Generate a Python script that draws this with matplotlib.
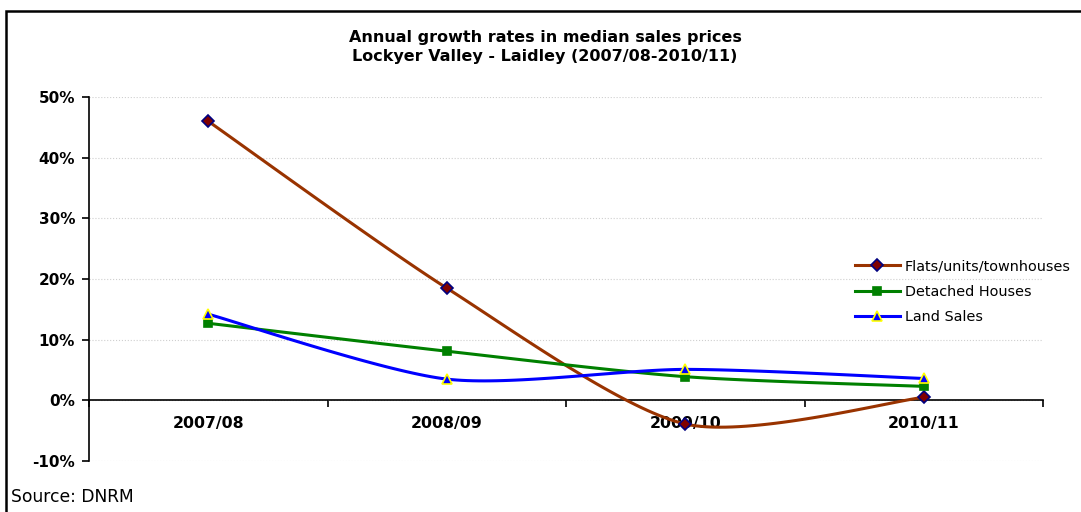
import numpy as np
import matplotlib.pyplot as plt
from matplotlib.patches import Rectangle
from matplotlib.ticker import FuncFormatter

plt.rcParams['font.family'] = ['DejaVu Sans']

years = ['2007/08', '2008/09', '2009/10', '2010/11']
flats = [46.0, 18.5, -3.9, 0.5]
detached = [12.7, 8.1, 3.9, 2.3]
land = [14.2, 3.5, 5.1, 3.6]


def smooth(ys, tension=0.13, n=40):
    # smoothed line: cubic Bezier segments through the points
    xs = np.arange(len(ys), dtype=float)
    ys = np.asarray(ys, dtype=float)
    px, py = [], []
    for i in range(len(ys) - 1):
        x0, y0 = xs[i], ys[i]
        x3, y3 = xs[i + 1], ys[i + 1]
        xm, ym = (xs[i - 1], ys[i - 1]) if i > 0 else (x0, y0)
        xp, yp = (xs[i + 2], ys[i + 2]) if i + 2 < len(ys) else (x3, y3)
        x1, y1 = x0 + (x3 - xm) * tension, y0 + (y3 - ym) * tension
        x2, y2 = x3 - (xp - x0) * tension, y3 - (yp - y0) * tension
        t = np.linspace(0, 1, n)
        px.extend((1 - t) ** 3 * x0 + 3 * (1 - t) ** 2 * t * x1 + 3 * (1 - t) * t ** 2 * x2 + t ** 3 * x3)
        py.extend((1 - t) ** 3 * y0 + 3 * (1 - t) ** 2 * t * y1 + 3 * (1 - t) * t ** 2 * y2 + t ** 3 * y3)
    return px, py


fig = plt.figure(figsize=(10.81, 5.12), dpi=100)
ax = fig.add_axes([89 / 1081, 1 - 461 / 512, (1043 - 89) / 1081, (461 - 97) / 512])

series = [
    (flats, 'Flats/units/townhouses', '#993300', 'D', '#800000', '#000080', 6),
    (detached, 'Detached Houses', '#008000', 's', '#008000', '#008000', 6),
    (land, 'Land Sales', '#0000FF', '^', '#0000FF', '#FFFF00', 7),
]
x = np.arange(len(years))
for ys, name, col, mk, fc, ec, ms in series:
    sx, sy = smooth(ys)
    ax.plot(sx, sy, color=col, linewidth=2.2, zorder=3)
    ax.plot(x, ys, linestyle='none', marker=mk, markersize=ms,
            markerfacecolor=fc, markeredgecolor=ec, markeredgewidth=1.2, zorder=4)
    ax.plot([], [], color=col, linewidth=2.2, marker=mk, markersize=ms,
            markerfacecolor=fc, markeredgecolor=ec, markeredgewidth=1.2, label=name)

ax.set_xlim(-0.5, 3.5)
ax.set_ylim(-10, 50)
ax.set_yticks(range(-10, 51, 10))
ax.yaxis.set_major_formatter(FuncFormatter(lambda v, p: f'{v:.0f}%'))
ax.yaxis.grid(True, color='#cfcfcf', linestyle=':', linewidth=0.8)
ax.set_axisbelow(True)
ax.tick_params(axis='y', direction='out', length=5, width=1.2, pad=5, labelsize=11)
for lb in ax.get_yticklabels():
    lb.set_fontweight('bold')

ax.spines['top'].set_visible(False)
ax.spines['right'].set_visible(False)
ax.spines['bottom'].set_position(('data', 0))
ax.spines['bottom'].set_linewidth(1.2)
ax.spines['left'].set_linewidth(1.2)

ax.set_xticks(np.arange(-0.5, 3.6, 1))
ax.set_xticklabels([])
ax.set_xticks(x, minor=True)
ax.set_xticklabels(years, minor=True, fontweight='bold', fontsize=11.3)
ax.tick_params(axis='x', which='major', direction='out', length=5, width=1.2)
ax.tick_params(axis='x', which='minor', length=0, pad=11)

ax.legend(loc='upper left', bbox_to_anchor=(842 / 1081, 1 - 246 / 512),
          bbox_transform=fig.transFigure, frameon=False, fontsize=10.4,
          handlelength=3.1, handletextpad=0.35, labelspacing=0.8)

fig.text(545 / 1081, 1 - 47 / 512,
         'Annual growth rates in median sales prices\nLockyer Valley - Laidley (2007/08-2010/11)',
         ha='center', va='center', fontsize=11.5, fontweight='bold', linespacing=1.3)
fig.text(11 / 1081, 1 - 497 / 512, 'Source: DNRM', ha='left', va='center', fontsize=12.3)

fig.patches.append(Rectangle((6 / 1081, -0.05), 1.1, 1 - 11 / 512 + 0.05,
                             transform=fig.transFigure, fill=False,
                             edgecolor='black', linewidth=1.8))

fig.savefig('out.png', dpi=100)
